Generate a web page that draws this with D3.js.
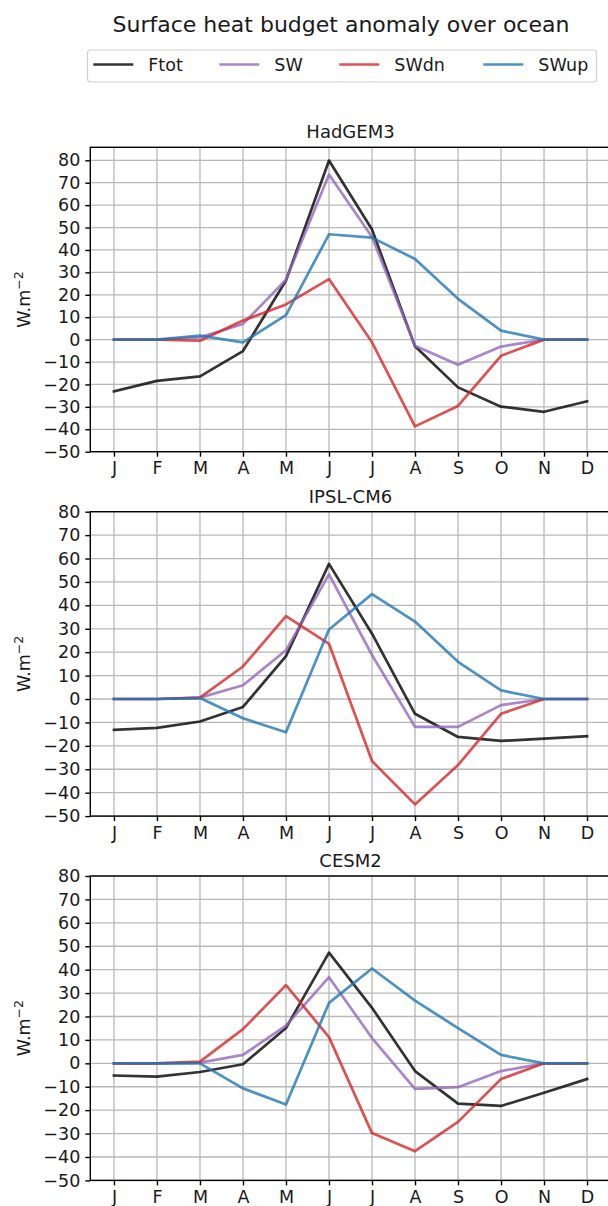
<!DOCTYPE html>
<html lang="en">
<head>
<meta charset="UTF-8">
<title>Surface heat budget anomaly over ocean</title>
<script src="https://cdn.jsdelivr.net/npm/d3@7"></script>
<style>
  body { margin: 0; background: #fff; }
  svg { display: block; font-family: "DejaVu Sans", sans-serif; }
</style>
</head>
<body>
<svg></svg>
<script>
// month ticks and series names
var months = ['J', 'F', 'M', 'A', 'M', 'J', 'J', 'A', 'S', 'O', 'N', 'D'];
var models = ['HadGEM3', 'IPSL-CM6', 'CESM2'];
var seriesNames = ['Ftot', 'SW', 'SWdn', 'SWup'];
var yTicks = [-50, -40, -30, -20, -10, 0, 10, 20, 30, 40, 50, 60, 70, 80];

// HadGEM3 (W.m-2)
var hadFtot = [-23.1, -18.4, -16.4, -5.1, 26.4, 79.9, 49.1, -3.0, -21.3, -29.9, -32.2, -27.5];
var hadSW   = [0, 0, 1.0, 7.0, 26.7, 73.7, 45.8, -2.7, -11.2, -3.1, 0, 0];
var hadSWdn = [0, 0, -0.5, 8.5, 15.7, 27.0, -1.2, -38.7, -29.6, -7.2, 0, 0];
var hadSWup = [0, 0, 1.8, -1.2, 10.9, 47.0, 45.5, 36.0, 18.2, 4.0, 0, 0];

// IPSL-CM6
var ipslFtot = [-13.2, -12.3, -9.6, -3.4, 18.3, 57.7, 27.9, -6.3, -16.2, -17.9, -16.9, -15.9];
var ipslSW   = [0, 0, 0.6, 5.9, 20.8, 53.2, 18.8, -11.9, -11.9, -2.6, 0, 0];
var ipslSWdn = [0, 0, 0.6, 13.9, 35.4, 23.6, -26.5, -45.0, -28.2, -6.3, 0, 0];
var ipslSWup = [0, 0, 0.4, -8.2, -14.2, 29.7, 44.8, 33.1, 15.9, 3.7, 0, 0];

// CESM2
var cesmFtot = [-5.2, -5.7, -3.7, -0.4, 15.1, 47.3, 23.7, -3.3, -17.2, -18.2, -12.6, -6.7];
var cesmSW   = [0, 0, 0.3, 3.6, 16.1, 36.8, 10.8, -10.9, -10.2, -3.3, 0, 0];
var cesmSWdn = [0, 0, 0.7, 14.6, 33.4, 11.2, -29.8, -37.5, -25.0, -6.7, 0, 0];
var cesmSWup = [0, 0, 0, -10.7, -17.6, 25.8, 40.5, 26.8, 15.0, 3.6, 0, 0];

var panels = [
	[hadFtot, hadSW, hadSWdn, hadSWup],
	[ipslFtot, ipslSW, ipslSWdn, ipslSWup],
	[cesmFtot, cesmSW, cesmSWdn, cesmSWup]
];

var colors = ['#000000', '#9467bd', '#d62728', '#1f77b4'];
var fontSize = 17.5;

var width = 608, height = 1206;
var svg = d3.select('svg')
	.attr('width', width)
	.attr('height', height);

svg.append('rect').attr('width', width).attr('height', height).attr('fill', '#fff');

var axLeft = 90.3, axRight = 610.7;
var panelTop = [147.3, 511.7, 876];
var panelH = 304.4;
var yMax = [85.8, 80, 80];

var x = d3.scaleLinear()
	.domain([-0.55, 11.55])
	.range([axLeft, axRight]);

// suptitle
svg.append('text')
	.attr('x', 341)
	.attr('y', 31.5)
	.attr('text-anchor', 'middle')
	.style('font-size', '22px')
	.attr('fill', '#1a1a1a')
	.text('Surface heat budget anomaly over ocean');

// legend
var legend = svg.append('g');
legend.append('rect')
	.attr('x', 87.5).attr('y', 50)
	.attr('width', 509).attr('height', 32)
	.attr('rx', 3)
	.attr('fill', '#fff')
	.attr('stroke', '#d0d0d0')
	.attr('stroke-width', 1.2);
var legendX = [93.3, 219.3, 339.3, 483.3];
seriesNames.forEach(function (name, i) {
	legend.append('line')
		.attr('x1', legendX[i]).attr('x2', legendX[i] + 40)
		.attr('y1', 64.5).attr('y2', 64.5)
		.attr('stroke', colors[i])
		.attr('stroke-opacity', 0.8)
		.attr('stroke-width', 2.7);
	legend.append('text')
		.attr('x', legendX[i] + 55)
		.attr('y', 71)
		.style('font-size', fontSize + 'px')
		.attr('fill', '#1a1a1a')
		.text(name);
});

panels.forEach(function (series, p) {
	var top = panelTop[p];
	var bottom = top + panelH;

	var y = d3.scaleLinear()
		.domain([-50, yMax[p]])
		.range([bottom, top]);

	var g = svg.append('g');

	g.append('clipPath')
		.attr('id', 'clip' + p)
		.append('rect')
		.attr('x', axLeft).attr('y', top)
		.attr('width', axRight - axLeft).attr('height', panelH);

	// grid
	g.append('g')
		.selectAll('line')
		.data(yTicks)
		.enter()
		.append('line')
		.attr('x1', axLeft).attr('x2', axRight)
		.attr('y1', function (d) { return y(d); })
		.attr('y2', function (d) { return y(d); })
		.attr('stroke', '#b8b8b8')
		.attr('stroke-width', 1.3);

	g.append('g')
		.selectAll('line')
		.data(d3.range(months.length))
		.enter()
		.append('line')
		.attr('x1', function (d) { return x(d); })
		.attr('x2', function (d) { return x(d); })
		.attr('y1', top).attr('y2', bottom)
		.attr('stroke', '#b8b8b8')
		.attr('stroke-width', 1.3);

	// lines
	var line = d3.line()
		.x(function (d, i) { return x(i); })
		.y(function (d) { return y(d); });

	series.forEach(function (vals, i) {
		g.append('path')
			.datum(vals)
			.attr('clip-path', 'url(#clip' + p + ')')
			.attr('fill', 'none')
			.attr('stroke', colors[i])
			.attr('stroke-opacity', 0.8)
			.attr('stroke-width', 2.7)
			.attr('stroke-linejoin', 'round')
			.attr('stroke-linecap', 'square')
			.attr('d', line);
	});

	// frame
	g.append('rect')
		.attr('x', axLeft).attr('y', top)
		.attr('width', axRight - axLeft).attr('height', panelH)
		.attr('fill', 'none')
		.attr('stroke', '#000')
		.attr('stroke-width', 1.4);

	// axes
	var xAxis = g.append('g')
		.attr('transform', 'translate(0,' + bottom + ')')
		.call(d3.axisBottom(x)
			.tickValues(d3.range(months.length))
			.tickFormat(function (d) { return months[d]; })
			.tickSize(5)
			.tickPadding(5));

	var yAxis = g.append('g')
		.attr('transform', 'translate(' + axLeft + ',0)')
		.call(d3.axisLeft(y)
			.tickValues(yTicks)
			.tickFormat(d3.format('d'))
			.tickSize(5)
			.tickPadding(5));

	[xAxis, yAxis].forEach(function (a) {
		a.select('.domain').remove();
		a.selectAll('.tick line').attr('stroke', '#000').attr('stroke-width', 1.4);
		a.selectAll('.tick text')
			.attr('fill', '#1a1a1a')
			.style('font-size', fontSize + 'px')
			.style('font-family', '"DejaVu Sans", sans-serif');
	});

	// panel title
	g.append('text')
		.attr('x', (axLeft + axRight) / 2)
		.attr('y', top - 9)
		.attr('text-anchor', 'middle')
		.style('font-size', '18px')
		.attr('fill', '#1a1a1a')
		.text(models[p]);

	// y label
	var lab = g.append('text')
		.attr('transform', 'translate(30,' + (top + panelH / 2) + ') rotate(-90)')
		.attr('text-anchor', 'middle')
		.style('font-size', fontSize + 'px')
		.attr('fill', '#1a1a1a');
	lab.append('tspan').text('W.m');
	lab.append('tspan')
		.attr('dy', -7)
		.style('font-size', '12.5px')
		.text('\u22122');
});
</script>
</body>
</html>
